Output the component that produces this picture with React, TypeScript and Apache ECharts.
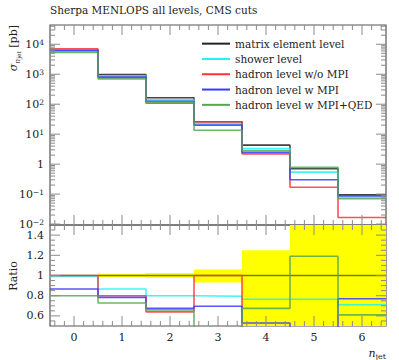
import React, { useEffect, useRef } from 'react';
import * as echarts from 'echarts';

const FONT = 'DejaVu Serif';
const TXT = '#222';
const FRAME = '#555';
const TICK = '#8a8a8a';

// bin centres (n_jet)
const nJet = [0, 1, 2, 3, 4, 5, 6];

// cross sections [pb]
const meLevel = [5800, 970, 165, 26, 4.3, 0.7, 0.095];
const showerLevel = [5900, 870, 140, 22, 3.3, 0.54, 0.078];
const hadronNoMPI = [7000, 780, 107, 26, 2.2, 0.17, 0.0165];
const hadronMPI = [6300, 810, 125, 20, 2.5, 0.3, 0.087];
const hadronMPIQED = [5300, 700, 115, 13.5, 2.8, 0.78, 0.07];

// ratios to matrix element level
const ratioME = [1, 1, 1, 1, 1, 1, 1];
const ratioShower = [0.99, 0.866, 0.8, 0.795, 0.765, 0.765, 0.71];
const ratioNoMPI = [1.0, 0.8, 0.64, 1.0, 0.4, 0.25, 0.18];
const ratioMPI = [0.866, 0.783, 0.675, 0.695, 0.53, 0.43, 0.77];
const ratioMPIQED = [0.8, 0.728, 0.66, 0.45, 0.675, 1.19, 0.61];

// uncertainty band of the reference
const bandLo = [0.995, 0.985, 0.975, 0.93, 0.4, 0.4, 0.4];
const bandHi = [1.005, 1.017, 1.025, 1.06, 1.25, 1.6, 1.6];

const seriesNames = [
  'matrix element level',
  'shower level',
  'hadron level w/o MPI',
  'hadron level w MPI',
  'hadron level w MPI+QED',
];
const seriesColors = ['#222222', '#1ff2f2', '#ff3333', '#3a3aff', '#55a855'];

// axis ranges
const X_MIN = -0.5;
const X_MAX = 6.5;
const Y_MIN = 0.0093;
const Y_MAX = 44000;
const R_MIN = 0.5;
const R_MAX = 1.5;

// tick positions
const xTickVals: number[] = [];
for (let i = -2; i <= 32; i++) xTickVals.push(Math.round(i * 0.2 * 10) / 10);
const logTickVals: number[] = [];
for (let d = -3; d <= 4; d++) {
  for (let k = 1; k <= 9; k++) {
    const v = k * Math.pow(10, d);
    if (v > Y_MIN && v < Y_MAX) logTickVals.push(v);
  }
}
const ratioTickVals: number[] = [];
for (let i = 11; i <= 29; i++) ratioTickVals.push(Math.round(i * 0.05 * 100) / 100);

function histData(vals: number[]) {
  const d = vals.map((v, i) => [nJet[i] - 0.5, v]);
  d.push([nJet[nJet.length - 1] + 0.5, vals[vals.length - 1]]);
  return d;
}

function xTicks(idx: number, yRef: number) {
  return {
    type: 'custom',
    xAxisIndex: idx,
    yAxisIndex: idx,
    silent: true,
    z: 10,
    data: xTickVals.map((v) => [v, yRef]),
    encode: { x: 0, y: 1 },
    renderItem: (params: any, api: any) => {
      const v = api.value(0);
      const cs = params.coordSys;
      const px = api.coord([v, yRef])[0];
      const major = Math.abs(v - Math.round(v)) < 1e-6;
      const len = major ? 10 : 5;
      const top = cs.y;
      const bot = cs.y + cs.height;
      return {
        type: 'group',
        children: [
          { type: 'line', shape: { x1: px, y1: bot, x2: px, y2: bot - len }, style: { stroke: TICK, lineWidth: 1 } },
          { type: 'line', shape: { x1: px, y1: top, x2: px, y2: top + len }, style: { stroke: TICK, lineWidth: 1 } },
        ],
      };
    },
  };
}

function yTicks(idx: number, vals: number[], isMajor: (v: number) => boolean) {
  return {
    type: 'custom',
    xAxisIndex: idx,
    yAxisIndex: idx,
    silent: true,
    z: 10,
    data: vals.map((v) => [0, v]),
    encode: { x: 0, y: 1 },
    renderItem: (params: any, api: any) => {
      const v = api.value(1);
      const cs = params.coordSys;
      const py = api.coord([0, v])[1];
      const len = isMajor(v) ? 10 : 5;
      const l = cs.x;
      const r = cs.x + cs.width;
      return {
        type: 'group',
        children: [
          { type: 'line', shape: { x1: l, y1: py, x2: l + len, y2: py }, style: { stroke: TICK, lineWidth: 1 } },
          { type: 'line', shape: { x1: r, y1: py, x2: r - len, y2: py }, style: { stroke: TICK, lineWidth: 1 } },
        ],
      };
    },
  };
}

const isPow10 = (v: number) => {
  const l = Math.log10(v);
  return Math.abs(l - Math.round(l)) < 1e-6;
};

export default function App() {
  const ref = useRef<HTMLDivElement>(null);
  useEffect(() => {
    const chart = echarts.init(ref.current!, null, { renderer: 'svg' });
    const upperVals = [meLevel, showerLevel, hadronNoMPI, hadronMPI, hadronMPIQED];
    const ratioVals = [ratioME, ratioShower, ratioNoMPI, ratioMPI, ratioMPIQED];

    const lineSeries: any[] = [];
    upperVals.forEach((vals, i) => {
      lineSeries.push({
        name: seriesNames[i],
        type: 'line',
        step: 'end',
        xAxisIndex: 0,
        yAxisIndex: 0,
        data: histData(vals),
        showSymbol: false,
        symbol: 'none',
        z: 3,
        lineStyle: { color: seriesColors[i], width: 1.6, opacity: 0.85 },
        itemStyle: { color: seriesColors[i] },
      });
    });
    ratioVals.forEach((vals, i) => {
      lineSeries.push({
        name: seriesNames[i],
        type: 'line',
        step: 'end',
        xAxisIndex: 1,
        yAxisIndex: 1,
        data: histData(vals),
        showSymbol: false,
        symbol: 'none',
        z: 3,
        lineStyle: { color: seriesColors[i], width: 1.6, opacity: i === 0 ? 0.6 : 0.85 },
        itemStyle: { color: seriesColors[i] },
      });
    });

    const bandSeries = {
      type: 'custom',
      xAxisIndex: 1,
      yAxisIndex: 1,
      silent: true,
      z: 1,
      data: nJet.map((x, i) => [x, bandLo[i], bandHi[i]]),
      encode: { x: 0, y: [1, 2] },
      renderItem: (params: any, api: any) => {
        const cs = params.coordSys;
        const x = api.value(0);
        const p1 = api.coord([x - 0.5, api.value(2)]);
        const p2 = api.coord([x + 0.5, api.value(1)]);
        const y1 = Math.max(cs.y, p1[1]);
        const y2 = Math.min(cs.y + cs.height, p2[1]);
        return {
          type: 'rect',
          shape: { x: p1[0], y: y1, width: p2[0] - p1[0], height: Math.max(0, y2 - y1) },
          style: { fill: '#ffff00' },
        };
      },
    };

    const axisHidden = {
      axisLine: { show: false },
      axisTick: { show: false },
      splitLine: { show: false },
    };

    const option: any = {
      animation: false,
      backgroundColor: '#ffffff',
      grid: [
        { left: 50, top: 25, width: 336, height: 200, show: true, borderColor: FRAME, borderWidth: 1.2, backgroundColor: 'transparent' },
        { left: 50, top: 225, width: 336, height: 101, show: true, borderColor: FRAME, borderWidth: 1.2, backgroundColor: 'transparent' },
      ],
      xAxis: [
        { type: 'value', gridIndex: 0, min: X_MIN, max: X_MAX, splitNumber: 7, ...axisHidden, axisLabel: { show: false } },
        {
          type: 'value',
          gridIndex: 1,
          min: X_MIN,
          max: X_MAX,
          splitNumber: 7,
          ...axisHidden,
          axisLabel: {
            show: true,
            margin: 6,
            fontFamily: FONT,
            fontSize: 11,
            color: TXT,
            formatter: (v: number) => (Math.abs(v - Math.round(v)) < 1e-6 ? String(Math.round(v)) : ''),
          },
        },
      ],
      yAxis: [
        {
          type: 'log',
          logBase: 10,
          gridIndex: 0,
          min: Y_MIN,
          max: Y_MAX,
          ...axisHidden,
          axisLabel: {
            show: true,
            margin: 6,
            fontFamily: FONT,
            fontSize: 11,
            color: TXT,
            formatter: (v: number) => {
              if (!isPow10(v)) return '';
              const p = Math.round(Math.log10(v));
              if (p === 0) return '{b|1}';
              return '{b|10}{s|' + (p < 0 ? '\u2212' + -p : String(p)) + '}';
            },
            rich: {
              b: { fontFamily: FONT, fontSize: 11, color: TXT, lineHeight: 11, verticalAlign: 'bottom' },
              s: { fontFamily: FONT, fontSize: 7.5, color: TXT, lineHeight: 7, verticalAlign: 'top' },
            },
          },
        },
        {
          type: 'value',
          gridIndex: 1,
          min: R_MIN,
          max: R_MAX,
          splitNumber: 5,
          ...axisHidden,
          axisLabel: {
            show: true,
            margin: 6,
            fontFamily: FONT,
            fontSize: 11,
            lineHeight: 11,
            color: TXT,
            formatter: (v: number) => {
              const k = Math.round(v * 5);
              if (Math.abs(v * 5 - k) > 1e-6 || v <= R_MIN + 1e-6 || v >= R_MAX - 1e-6) return '';
              return Math.abs(v - 1) < 1e-6 ? '1' : v.toFixed(1);
            },
          },
        },
      ],
      legend: {
        data: seriesNames,
        orient: 'vertical',
        left: 202,
        top: 36,
        padding: 0,
        itemGap: 0,
        icon: 'rect',
        itemWidth: 28,
        itemHeight: 2,
        textStyle: { fontFamily: FONT, fontSize: 10.5, color: TXT, lineHeight: 15.3 },
        selectedMode: false,
      },
      graphic: [
        {
          type: 'text',
          x: 50,
          y: 10,
          style: {
            text: 'Sherpa MENLOPS all levels, CMS cuts',
            fontFamily: FONT,
            fontSize: 10.5,
            fill: TXT,
            verticalAlign: 'middle',
            align: 'left',
          },
        },
        {
          type: 'text',
          x: 13,
          y: 25,
          rotation: Math.PI / 2,
          style: {
            text: '{s|σ}{n|n}{j|jet} {t|[pb]}',
            align: 'right',
            verticalAlign: 'middle',
            rich: {
              s: { fontFamily: FONT, fontStyle: 'italic', fontSize: 11, fill: TXT, lineHeight: 16, verticalAlign: 'middle' },
              n: { fontFamily: FONT, fontStyle: 'italic', fontSize: 7.5, fill: TXT, lineHeight: 9, verticalAlign: 'bottom' },
              j: { fontFamily: FONT, fontSize: 6, fill: TXT, lineHeight: 7, verticalAlign: 'bottom' },
              t: { fontFamily: FONT, fontSize: 11, fill: TXT, lineHeight: 16, verticalAlign: 'middle' },
            },
          },
        },
        {
          type: 'text',
          x: 13,
          y: 276,
          rotation: Math.PI / 2,
          style: {
            text: 'Ratio',
            fontFamily: FONT,
            fontSize: 11,
            fill: TXT,
            align: 'center',
            verticalAlign: 'middle',
          },
        },
        {
          type: 'text',
          x: 386,
          y: 353,
          style: {
            text: '{n|n}{j|jet}',
            align: 'right',
            verticalAlign: 'middle',
            rich: {
              n: { fontFamily: FONT, fontStyle: 'italic', fontSize: 11, fill: TXT, lineHeight: 14, verticalAlign: 'middle' },
              j: { fontFamily: FONT, fontSize: 8, fill: TXT, lineHeight: 9, verticalAlign: 'bottom' },
            },
          },
        },
      ],
      series: [
        bandSeries,
        ...lineSeries,
        xTicks(0, 1),
        xTicks(1, 1),
        yTicks(0, logTickVals, isPow10),
        yTicks(1, ratioTickVals, (v) => Math.abs(v * 5 - Math.round(v * 5)) < 1e-6),
      ],
    };
    chart.setOption(option);
    return () => chart.dispose();
  }, []);
  return <div ref={ref} style={{ position: 'absolute', left: 0, top: 0, width: 399, height: 360 }} />;
}
